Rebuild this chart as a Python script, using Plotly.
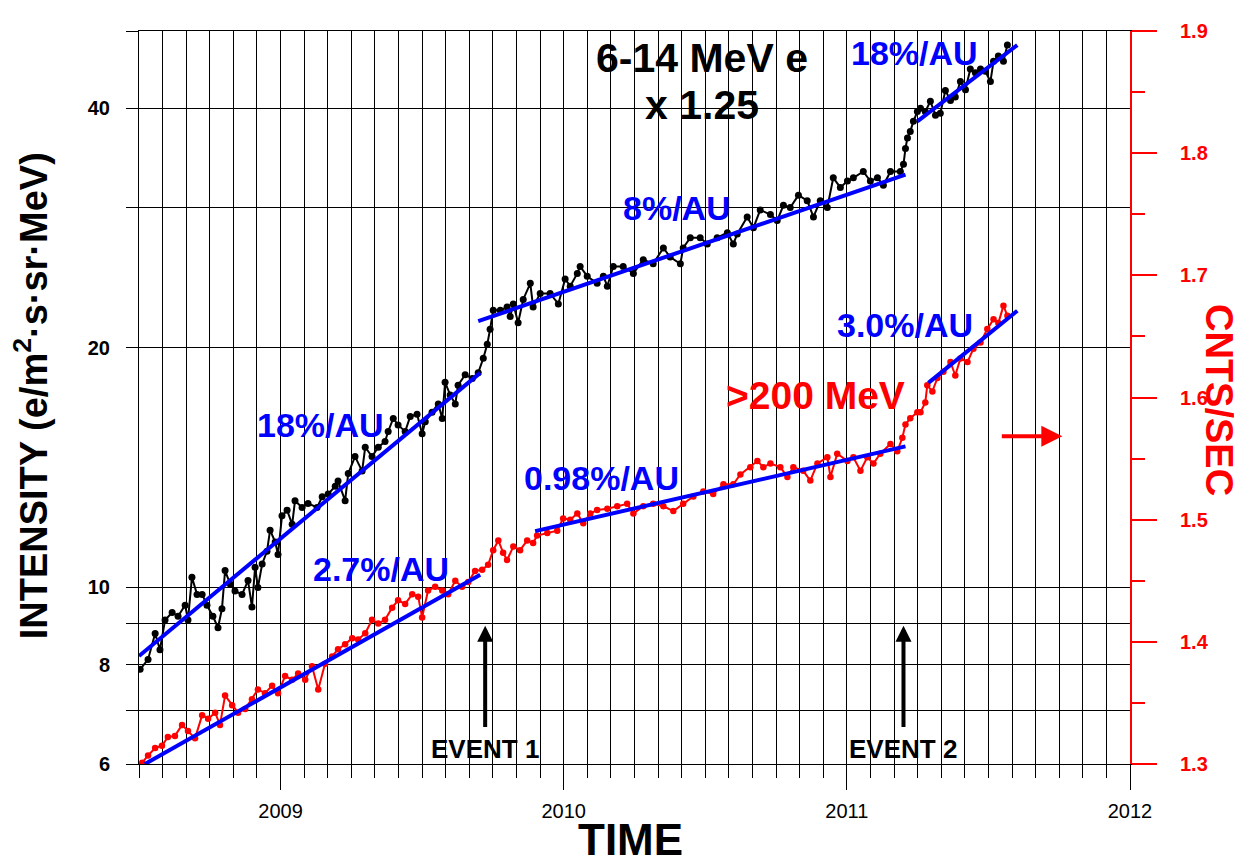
import numpy as np
import plotly.graph_objects as go

# ---------------- data ----------------
black_year = [2008.504, 2008.532, 2008.557, 2008.574, 2008.592, 2008.617, 2008.638, 2008.663, 2008.673, 2008.687,
              2008.705, 2008.723, 2008.740, 2008.761, 2008.779, 2008.793, 2008.804, 2008.822, 2008.839, 2008.864,
              2008.885, 2008.899, 2008.910, 2008.920, 2008.935, 2008.952, 2008.963, 2008.981, 2008.991, 2009.005,
              2009.023, 2009.041, 2009.051, 2009.076, 2009.097, 2009.129, 2009.147, 2009.168, 2009.193, 2009.203,
              2009.228, 2009.239, 2009.263, 2009.288, 2009.299, 2009.323, 2009.345, 2009.369, 2009.380, 2009.398,
              2009.415, 2009.440, 2009.458, 2009.482, 2009.500, 2009.511, 2009.535, 2009.557, 2009.571, 2009.581,
              2009.599, 2009.617, 2009.627, 2009.652, 2009.677, 2009.698, 2009.716, 2009.730, 2009.740, 2009.751,
              2009.776, 2009.800, 2009.811, 2009.822, 2009.839, 2009.857, 2009.882, 2009.892, 2009.917, 2009.952,
              2009.981, 2010.005, 2010.023, 2010.048, 2010.058, 2010.083, 2010.118, 2010.140, 2010.154, 2010.175,
              2010.210, 2010.246, 2010.281, 2010.316, 2010.352, 2010.376, 2010.412, 2010.422, 2010.447, 2010.482,
              2010.507, 2010.542, 2010.578, 2010.599, 2010.613, 2010.648, 2010.670, 2010.694, 2010.730, 2010.754,
              2010.776, 2010.800, 2010.829, 2010.860, 2010.882, 2010.906, 2010.931, 2010.952, 2010.977, 2011.002,
              2011.023, 2011.058, 2011.083, 2011.108, 2011.129, 2011.154, 2011.189, 2011.200, 2011.207, 2011.214,
              2011.224, 2011.235, 2011.249, 2011.260, 2011.277, 2011.295, 2011.313, 2011.330, 2011.348, 2011.366,
              2011.383, 2011.401, 2011.419, 2011.436, 2011.454, 2011.472, 2011.489, 2011.507, 2011.518, 2011.535,
              2011.553, 2011.567]
black_val = [7.89, 8.12, 8.75, 8.35, 9.1, 9.3, 9.2, 9.5, 9.1, 10.3,
             9.8, 9.8, 9.5, 9.2, 8.9, 9.4, 10.5, 10.1, 9.9, 9.8,
             10.2, 9.45, 10.6, 10.0, 10.7, 11.1, 11.8, 11.4, 11.0, 12.3,
             12.5, 12.0, 12.85, 12.6, 12.75, 12.6, 13.0, 13.1, 13.4, 13.6,
             12.85, 13.9, 14.6, 14.0, 15.0, 14.6, 15.0, 15.25, 15.7, 16.3,
             16.0, 15.7, 16.4, 16.5, 15.6, 16.15, 16.6, 17.0, 16.3, 18.1,
             17.45, 17.0, 17.95, 18.5, 18.3, 18.6, 19.4, 20.2, 21.1, 22.3,
             22.3, 22.5, 21.9, 22.7, 21.5, 23.0, 24.1, 22.5, 23.4, 23.4,
             22.7, 24.4, 23.9, 24.8, 25.3, 24.6, 24.1, 24.6, 23.9, 25.3,
             25.3, 24.8, 25.8, 25.5, 26.7, 26.0, 25.5, 26.7, 27.5, 27.5,
             27.0, 27.5, 27.9, 27.0, 27.8, 29.2, 28.3, 29.8, 29.4, 28.9,
             30.2, 30.0, 31.1, 30.6, 29.2, 30.6, 30.0, 32.7, 31.8, 32.4,
             32.7, 33.3, 32.4, 32.7, 32.0, 33.3, 33.3, 34.0, 35.6, 36.7,
             37.4, 38.5, 39.6, 40.0, 39.6, 40.8, 39.2, 39.4, 42.1, 40.9,
             41.3, 43.2, 42.2, 44.8, 44.3, 44.8, 44.5, 43.2, 45.8, 46.5,
             45.8, 48.0]

red_year = [2008.511, 2008.532, 2008.557, 2008.581, 2008.602, 2008.627, 2008.652, 2008.673, 2008.698, 2008.723,
            2008.744, 2008.769, 2008.786, 2008.804, 2008.829, 2008.850, 2008.875, 2008.899, 2008.920, 2008.945,
            2008.970, 2008.991, 2009.016, 2009.041, 2009.062, 2009.087, 2009.111, 2009.133, 2009.157, 2009.182,
            2009.203, 2009.228, 2009.253, 2009.274, 2009.299, 2009.323, 2009.345, 2009.369, 2009.394, 2009.415,
            2009.440, 2009.465, 2009.486, 2009.500, 2009.521, 2009.546, 2009.571, 2009.592, 2009.617, 2009.641,
            2009.663, 2009.687, 2009.712, 2009.733, 2009.751, 2009.769, 2009.786, 2009.800, 2009.822, 2009.846,
            2009.871, 2009.892, 2009.906, 2009.942, 2009.977, 2009.998, 2010.023, 2010.048, 2010.069, 2010.094,
            2010.118, 2010.154, 2010.189, 2010.224, 2010.246, 2010.281, 2010.316, 2010.352, 2010.387, 2010.422,
            2010.458, 2010.493, 2010.528, 2010.564, 2010.599, 2010.624, 2010.659, 2010.684, 2010.705, 2010.730,
            2010.765, 2010.790, 2010.811, 2010.846, 2010.871, 2010.896, 2010.931, 2010.942, 2010.966, 2011.002,
            2011.023, 2011.048, 2011.072, 2011.094, 2011.118, 2011.154, 2011.178, 2011.196, 2011.207, 2011.224,
            2011.249, 2011.260, 2011.277, 2011.284, 2011.302, 2011.320, 2011.341, 2011.366, 2011.383, 2011.401,
            2011.426, 2011.447, 2011.472, 2011.496, 2011.518, 2011.535, 2011.553, 2011.567]
red_val = [1.301, 1.307, 1.313, 1.315, 1.322, 1.323, 1.332, 1.327, 1.321, 1.340,
           1.337, 1.342, 1.332, 1.356, 1.348, 1.342, 1.345, 1.353, 1.361, 1.358,
           1.364, 1.358, 1.372, 1.369, 1.374, 1.369, 1.380, 1.361, 1.382, 1.388,
           1.394, 1.398, 1.403, 1.402, 1.407, 1.418, 1.415, 1.418, 1.428, 1.434,
           1.431, 1.439, 1.437, 1.420, 1.442, 1.445, 1.442, 1.439, 1.450, 1.445,
           1.449, 1.458, 1.459, 1.463, 1.475, 1.483, 1.473, 1.467, 1.478, 1.475,
           1.483, 1.481, 1.487, 1.489, 1.491, 1.501, 1.500, 1.505, 1.497, 1.505,
           1.508, 1.509, 1.511, 1.513, 1.505, 1.511, 1.513, 1.511, 1.507, 1.513,
           1.519, 1.523, 1.521, 1.529, 1.529, 1.537, 1.543, 1.548, 1.543, 1.546,
           1.543, 1.535, 1.543, 1.540, 1.532, 1.546, 1.551, 1.535, 1.554, 1.548,
           1.551, 1.540, 1.551, 1.546, 1.554, 1.562, 1.556, 1.567, 1.578, 1.583,
           1.588, 1.588, 1.596, 1.610, 1.605, 1.616, 1.621, 1.629, 1.618, 1.632,
           1.629, 1.640, 1.645, 1.656, 1.664, 1.661, 1.675, 1.667]

# fitted trend segments: (start year, end year, start value, end value)
black_fits = [(2008.500, 2009.705, 8.2, 18.6),
              (2009.698, 2011.207, 21.6, 33.0),
              (2011.249, 2011.602, 38.5, 48.0)]
red_fits = [(2008.521, 2009.705, 1.300, 1.455),
            (2009.899, 2011.207, 1.4906, 1.560),
            (2011.288, 2011.602, 1.612, 1.671)]

year_ticks = [2009, 2010, 2011, 2012]
left_tickvals = [6, 7, 8, 9, 10, 20, 30, 40, 50]
left_ticktext = ["6", "", "8", "", "10", "20", "", "40", ""]
right_tickvals = [1.3, 1.4, 1.5, 1.6, 1.7, 1.8, 1.9]

event_years = [2009.7226, 2011.200]
event_names = ["EVENT 1", "EVENT 2"]

# ---------------- figure ----------------
FONT = "Liberation Sans, Arial, sans-serif"
BLUE = "#0000FF"
RED = "#FF0000"

fig = go.Figure()

fig.add_trace(go.Scatter(x=black_year, y=black_val, mode="lines+markers", yaxis="y",
                         line=dict(color="black", width=2),
                         marker=dict(color="black", size=7), showlegend=False))
fig.add_trace(go.Scatter(x=red_year, y=red_val, mode="lines+markers", yaxis="y2",
                         line=dict(color=RED, width=2),
                         marker=dict(color=RED, size=6.5), showlegend=False))

for x0, x1, v0, v1 in black_fits:
    fig.add_trace(go.Scatter(x=[x0, x1], y=[v0, v1], mode="lines", yaxis="y",
                             line=dict(color=BLUE, width=4), showlegend=False))
for x0, x1, v0, v1 in red_fits:
    fig.add_trace(go.Scatter(x=[x0, x1], y=[v0, v1], mode="lines", yaxis="y2",
                             line=dict(color=BLUE, width=4), showlegend=False))

ann = []


def txt(text, x, y, size, color, **kw):
    d = dict(text=text, x=x, y=y, xref="x", yref="y2", showarrow=False,
             font=dict(family=FONT, size=size, color=color, weight="bold"),
             xanchor="center", yanchor="middle")
    d.update(kw)
    ann.append(d)


txt("6-14 MeV e", 2010.489, 1.8776, 41, "black")
txt("x 1.25", 2010.489, 1.8396, 41, "black")
txt("18%/AU", 2011.239, 1.8824, 34, BLUE)
txt("8%/AU", 2010.401, 1.7548, 34, BLUE)
txt("18%/AU", 2009.140, 1.5779, 34, BLUE)
txt("2.7%/AU", 2009.355, 1.4600, 34, BLUE)
txt("0.98%/AU", 2010.132, 1.5342, 34, BLUE)
txt("3.0%/AU", 2011.207, 1.6594, 34, BLUE)
txt(">200 MeV", 2010.889, 1.6020, 39, RED)

for ey, name in zip(event_years, event_names):
    txt(name, ey, 1.3120, 26, "black")
    ann.append(dict(text="", x=ey, y=1.4131, xref="x", yref="y2",
                    ax=ey, ay=1.3291, axref="x", ayref="y2",
                    showarrow=True, arrowhead=2, arrowsize=0.8, arrowwidth=4,
                    arrowcolor="black"))

ann.append(dict(text="", x=2011.761, y=1.5682, xref="x", yref="y2",
                ax=2011.542, ay=1.5682, axref="x", ayref="y2",
                showarrow=True, arrowhead=2, arrowsize=1.05, arrowwidth=4,
                arrowcolor=RED))

ann.append(dict(text="INTENSITY (e/m<sup>2</sup>·s·sr·MeV)", x=-0.109, y=0.503,
                xref="paper", yref="paper", showarrow=False, textangle=-90,
                font=dict(family=FONT, size=38, color="black", weight="bold"),
                xanchor="center", yanchor="middle"))
ann.append(dict(text="CNTS/SEC", x=1.0905, y=0.497, xref="paper", yref="paper",
                showarrow=False, textangle=90,
                font=dict(family=FONT, size=38, color=RED, weight="bold"),
                xanchor="center", yanchor="middle"))
ann.append(dict(text="TIME", x=0.4955, y=-0.1035, xref="paper", yref="paper",
                showarrow=False,
                font=dict(family=FONT, size=44, color="black", weight="bold"),
                xanchor="center", yanchor="middle"))

# page body has an 8 px margin, so the figure is sized 8 px smaller
fig.update_layout(
    width=1234, height=859,
    margin=dict(l=131, r=112, t=13, b=103),
    paper_bgcolor="white", plot_bgcolor="white",
    showlegend=False,
    annotations=ann,
    xaxis=dict(range=[2008.5, 2012], tickvals=year_ticks, ticktext=[str(v) for v in year_ticks],
               ticks="outside", ticklen=25, tickcolor="black", tickwidth=1,
               showgrid=True, gridcolor="black", gridwidth=1,
               minor=dict(tick0=2008.5, dtick=1 / 12, ticks="outside", ticklen=13,
                          tickcolor="black", tickwidth=1, showgrid=True,
                          gridcolor="black", gridwidth=1),
               showline=True, linecolor="black", linewidth=1, mirror=True,
               zeroline=False, ticklabelstandoff=4,
               tickfont=dict(family=FONT, size=20, color="black")),
    yaxis=dict(type="log", range=[np.log10(6), np.log10(50)],
               tickvals=left_tickvals, ticktext=left_ticktext,
               ticks="outside", ticklen=12, tickcolor="black", tickwidth=1,
               showgrid=True, gridcolor="black", gridwidth=1,
               showline=True, linecolor="black", linewidth=1,
               zeroline=False, ticklabelstandoff=12,
               tickfont=dict(family=FONT, size=20, color="black", weight="bold")),
    yaxis2=dict(overlaying="y", side="right", range=[1.3, 1.9],
                tickvals=right_tickvals, ticktext=[f"{v:.1f}" for v in right_tickvals],
                ticks="outside", ticklen=25, tickcolor=RED, tickwidth=2,
                minor=dict(tick0=1.3, dtick=0.05, ticks="outside", ticklen=13,
                           tickcolor=RED, tickwidth=2, showgrid=False),
                showgrid=False, showline=True, linecolor=RED, linewidth=2,
                zeroline=False, ticklabelstandoff=19,
                tickfont=dict(family=FONT, size=20, color=RED, weight="bold")),
    yaxis3=dict(overlaying="y", side="left", type="log", range=[np.log10(6), np.log10(50)],
                tickvals=[10], ticks="outside", ticklen=24, tickcolor="black", tickwidth=1,
                showticklabels=False, showgrid=False, showline=False, zeroline=False),
)

fig.write_html("out.html")
